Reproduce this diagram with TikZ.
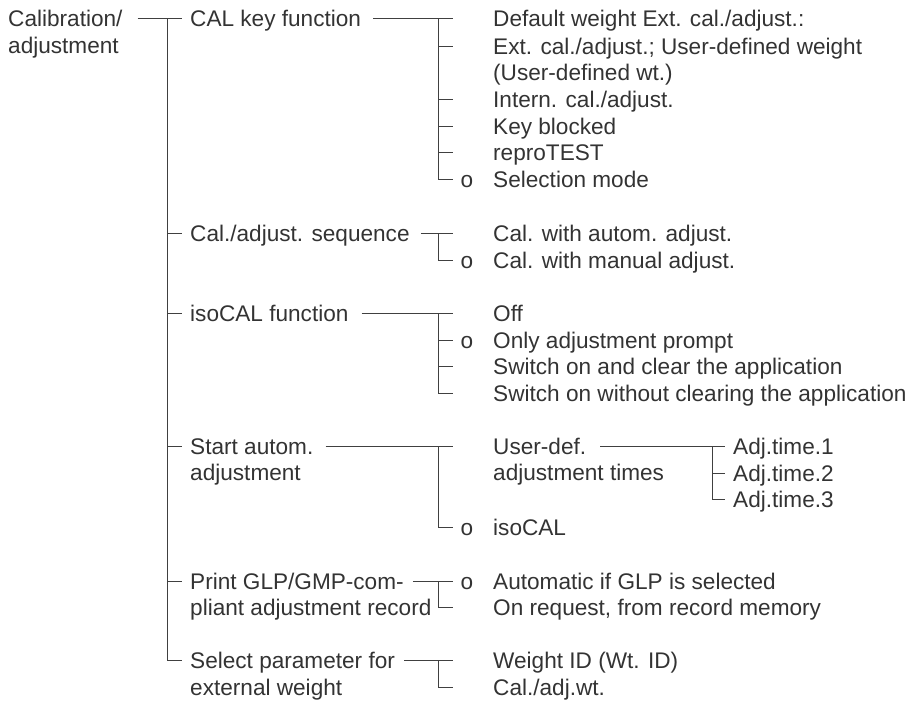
\documentclass[tikz,border=0pt]{standalone}
\usepackage{fontspec}
\setmainfont{Liberation Sans}
\definecolor{txt}{HTML}{333333}
\definecolor{ln}{HTML}{404040}
\begin{document}
\begin{tikzpicture}[x=1pt,y=-1pt,
  lbl/.style={anchor=west, inner sep=0pt, text height=16.1pt, text depth=0pt,
    font=\fontsize{22.6}{26.7}\selectfont, text=txt},
  omark/.style={lbl, anchor=center},
  conn/.style={draw=ln, line width=1.3pt}]
\useasboundingbox (0,0) rectangle (909,702);
% level 1
\node[lbl] (cal) at (8,18.5) {Calibration/};
\node[lbl] (cal2) at (8,45.5) {adjustment};
% level 2
\node[lbl] (k1) at (190,18.5) {CAL key function};
\node[lbl] (k2) at (190,233.5) {Cal./adjust. sequence};
\node[lbl] (k3) at (190,313.5) {isoCAL function};
\node[lbl] (k4) at (190,446.5) {Start autom.};
\node[lbl] (k4b) at (190,472.5) {adjustment};
\node[lbl] (k5) at (190,581.5) {Print GLP/GMP-com-};
\node[lbl] (k5b) at (190,607.5) {pliant adjustment record};
\node[lbl] (k6) at (190,660.5) {Select parameter for};
\node[lbl] (k6b) at (190,687.5) {external weight};
% level 3
\node[lbl] (c1) at (493,18.5) {Default weight Ext. cal./adjust.:};
\node[lbl] (c2) at (493,46.5) {Ext. cal./adjust.; User-defined weight};
\node[lbl] (c2b) at (493,72.5) {(User-defined wt.)};
\node[lbl] (c3) at (493,99.5) {Intern. cal./adjust.};
\node[lbl] (c4) at (493,126.5) {Key blocked};
\node[lbl] (c5) at (493,152.5) {reproTEST};
\node[lbl] (c6) at (493,179.5) {Selection mode};
\node[omark] (oc6) at (467,179.5) {o};
\node[lbl] (s1) at (493,233.5) {Cal. with autom. adjust.};
\node[lbl] (s2) at (493,260.5) {Cal. with manual adjust.};
\node[omark] (os2) at (467,260.5) {o};
\node[lbl] (i1) at (493,313.5) {Off};
\node[lbl] (i2) at (493,340.5) {Only adjustment prompt};
\node[omark] (oi2) at (467,340.5) {o};
\node[lbl] (i3) at (493,366.5) {Switch on and clear the application};
\node[lbl] (i4) at (493,393.5) {Switch on without clearing the application};
\node[lbl] (u1) at (493,446.5) {User-def.};
\node[lbl] (u1b) at (493,472.5) {adjustment times};
\node[lbl] (u2) at (493,527.5) {isoCAL};
\node[omark] (ou2) at (467,527.5) {o};
\node[lbl] (p1) at (493,581.5) {Automatic if GLP is selected};
\node[omark] (op1) at (467,581.5) {o};
\node[lbl] (p2) at (493,607.5) {On request, from record memory};
\node[lbl] (w1) at (493,660.5) {Weight ID (Wt. ID)};
\node[lbl] (w2) at (493,687.5) {Cal./adj.wt.};
% level 4
\node[lbl] (a1) at (733,446.5) {Adj.time.1};
\node[lbl] (a2) at (733,473.5) {Adj.time.2};
\node[lbl] (a3) at (733,499.5) {Adj.time.3};
% trunk
\draw[conn] ([xshift=15pt]cal.east) -- ([xshift=-8pt]k1.west);
\draw[conn] ([xshift=-22.5pt]k1.west) |- ([xshift=-8pt]k6.west);
\foreach \n in {k2,k3,k4,k5}
  \draw[conn] ([xshift=-22.5pt]\n.west) -- ([xshift=-8pt]\n.west);
% CAL key function
\draw[conn] ([xshift=12pt]k1.east) -- ([xshift=-40pt]c1.west);
\draw[conn] ([xshift=-54.5pt]c1.west) |- ([xshift=-40pt]c6.west);
\foreach \n in {c2,c3,c4,c5}
  \draw[conn] ([xshift=-54.5pt]\n.west) -- ([xshift=-40pt]\n.west);
% sequence
\draw[conn] ([xshift=11pt]k2.east) -- ([xshift=-40pt]s1.west);
\draw[conn] ([xshift=-54.5pt]s1.west) |- ([xshift=-40pt]s2.west);
% isoCAL
\draw[conn] ([xshift=13pt]k3.east) -- ([xshift=-40pt]i1.west);
\draw[conn] ([xshift=-54.5pt]i1.west) |- ([xshift=-40pt]i4.west);
\foreach \n in {i2,i3}
  \draw[conn] ([xshift=-54.5pt]\n.west) -- ([xshift=-40pt]\n.west);
% start autom
\draw[conn] ([xshift=12pt]k4.east) -- ([xshift=-40pt]u1.west);
\draw[conn] ([xshift=-54.5pt]u1.west) |- ([xshift=-40pt]u2.west);
% print
\draw[conn] ([xshift=9pt]k5.east) -- ([xshift=-40pt]p1.west);
\draw[conn] ([xshift=-54.5pt]p1.west) |- ([xshift=-40pt]p2.west);
% select
\draw[conn] ([xshift=9pt]k6.east) -- ([xshift=-40pt]w1.west);
\draw[conn] ([xshift=-54.5pt]w1.west) |- ([xshift=-40pt]w2.west);
% user-def
\draw[conn] ([xshift=14pt]u1.east) -- ([xshift=-8pt]a1.west);
\draw[conn] ([xshift=-20.5pt]a1.west) |- ([xshift=-8pt]a3.west);
\draw[conn] ([xshift=-20.5pt]a2.west) -- ([xshift=-8pt]a2.west);
\end{tikzpicture}
\end{document}
